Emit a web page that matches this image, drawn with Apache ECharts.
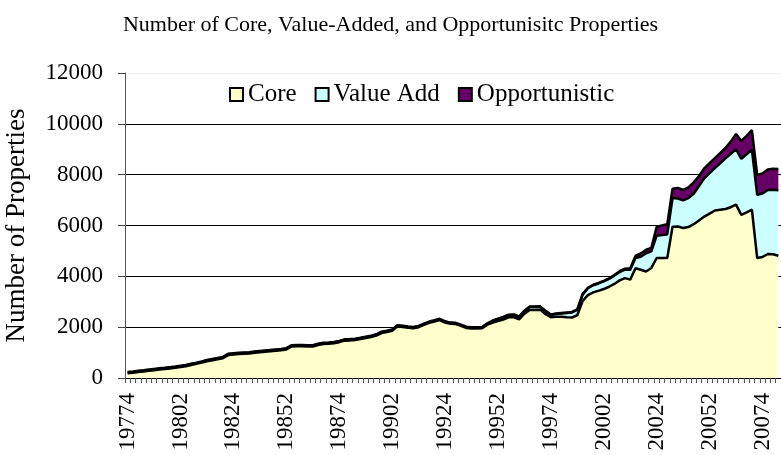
<!DOCTYPE html>
<html>
<head>
<meta charset="utf-8">
<script src="https://cdn.jsdelivr.net/npm/echarts@6/dist/echarts.min.js"></script>
<style>
  html, body { margin: 0; padding: 0; background: #fff; }
  #chart { width: 781px; height: 455px; }
</style>
</head>
<body>
<div id="chart"></div>
<script>
// quarters, yyyyq
const quarters = [
  '19774',
  '19781', '19782', '19783', '19784', '19791', '19792', '19793', '19794',
  '19801', '19802', '19803', '19804', '19811', '19812', '19813', '19814',
  '19821', '19822', '19823', '19824', '19831', '19832', '19833', '19834',
  '19841', '19842', '19843', '19844', '19851', '19852', '19853', '19854',
  '19861', '19862', '19863', '19864', '19871', '19872', '19873', '19874',
  '19881', '19882', '19883', '19884', '19891', '19892', '19893', '19894',
  '19901', '19902', '19903', '19904', '19911', '19912', '19913', '19914',
  '19921', '19922', '19923', '19924', '19931', '19932', '19933', '19934',
  '19941', '19942', '19943', '19944', '19951', '19952', '19953', '19954',
  '19961', '19962', '19963', '19964', '19971', '19972', '19973', '19974',
  '19981', '19982', '19983', '19984', '19991', '19992', '19993', '19994',
  '20001', '20002', '20003', '20004', '20011', '20012', '20013', '20014',
  '20021', '20022', '20023', '20024', '20031', '20032', '20033', '20034',
  '20041', '20042', '20043', '20044', '20051', '20052', '20053', '20054',
  '20061', '20062', '20063', '20064', '20071', '20072', '20073', '20074',
  '20081', '20082', '20083',
]

const core = [
  190, 210, 235, 255, 280, 305, 330, 350, 375, 400, 430, 465, 510, 555, 605, 660,
  700, 735, 780, 900, 925, 940, 950, 960, 990, 1010, 1030, 1050, 1070, 1090, 1125, 1240,
  1250, 1250, 1240, 1240, 1300, 1340, 1350, 1365, 1410, 1470, 1480, 1495, 1530, 1570, 1610, 1670,
  1770, 1810, 1860, 2030, 2010, 1980, 1960, 2000, 2090, 2170, 2220, 2280, 2180, 2130, 2120, 2050,
  1970, 1950, 1950, 1960, 2100, 2180, 2240, 2300, 2390, 2390, 2310, 2530, 2680, 2680, 2690, 2510,
  2390, 2410, 2410, 2390, 2380, 2470, 3030, 3260, 3370, 3430, 3500, 3590, 3700, 3840, 3930, 3870,
  4320, 4260, 4190, 4330, 4720, 4720, 4720, 5950, 5960, 5900, 5940, 6050, 6200, 6350, 6470, 6590,
  6620, 6650, 6720, 6820, 6420, 6520, 6620, 4720, 4760, 4880, 4870, 4810,
]

const valueAdd = [
  30, 30, 30, 30, 30, 30, 30, 30, 30, 30, 30, 30, 30, 30, 30, 30,
  30, 30, 30, 30, 30, 30, 30, 30, 30, 30, 30, 30, 30, 30, 30, 30,
  30, 30, 30, 30, 30, 30, 30, 30, 30, 30, 30, 30, 30, 30, 30, 30,
  30, 30, 30, 30, 30, 30, 30, 30, 30, 30, 30, 30, 30, 30, 30, 30,
  30, 30, 30, 30, 30, 60, 70, 80, 80, 90, 90, 100, 110, 110, 110, 110,
  90, 110, 130, 170, 200, 210, 250, 270, 280, 290, 300, 310, 330, 330, 330, 390,
  400, 510, 720, 650, 880, 910, 930, 1130, 1100, 1090, 1140, 1200, 1350, 1510, 1590, 1670,
  1830, 1990, 2100, 2180, 2200, 2280, 2360, 2490, 2500, 2520, 2540, 2580,
]

const opportunistic = [
  20, 20, 20, 20, 20, 20, 20, 20, 20, 20, 20, 20, 20, 20, 20, 20,
  20, 20, 20, 20, 20, 20, 20, 20, 20, 20, 20, 20, 20, 20, 20, 20,
  20, 20, 20, 20, 20, 20, 20, 20, 20, 20, 20, 20, 20, 20, 20, 20,
  20, 20, 20, 20, 20, 20, 20, 20, 20, 20, 20, 20, 20, 20, 20, 20,
  20, 20, 20, 20, 20, 20, 20, 20, 20, 20, 20, 20, 20, 20, 20, 20,
  20, 20, 20, 20, 20, 20, 20, 20, 20, 20, 20, 20, 20, 30, 40, 60,
  80, 130, 140, 140, 350, 370, 400, 370, 420, 410, 420, 450, 400, 390, 390, 390,
  400, 410, 480, 600, 710, 730, 770, 780, 790, 800, 820, 830,
]

const yTicks = [0, 2000, 4000, 6000, 8000, 10000, 12000]

const FONT = '"Liberation Serif", "Times New Roman", serif'

const chart = echarts.init(document.getElementById('chart'))

const makeSeries = (name, data, fill) => ({
  name,
  type: 'line',
  stack: 'total',
  data,
  showSymbol: false,
  symbol: 'none',
  animation: false,
  itemStyle: { color: fill },
  lineStyle: { color: '#000', width: 2.5 },
  areaStyle: { color: fill, opacity: 1 },
})

chart.setOption({
  backgroundColor: '#fff',
  animation: false,
  title: {
    text: 'Number of Core, Value-Added, and Opportunisitc Properties',
    left: 'center',
    top: 9,
    textStyle: { fontFamily: FONT, fontSize: 22, fontWeight: 'normal', color: '#000' },
  },
  legend: {
    left: 224,
    top: 77,
    icon: 'rect',
    itemWidth: 13,
    itemHeight: 13,
    itemGap: 18,
    itemStyle: { borderColor: '#000', borderWidth: 2 },
    textStyle: { fontFamily: FONT, fontSize: 25, color: '#000' },
    data: ['Core', 'Value Add', 'Opportunistic'],
  },
  grid: {
    left: 125,
    right: 0,
    top: 73,
    bottom: 77,
    outerBoundsMode: 'none',
    containLabel: false,
  },
  xAxis: {
    type: 'category',
    data: quarters,
    boundaryGap: true,
    axisLine: { lineStyle: { color: '#000', width: 1 } },
    axisTick: { show: true, interval: 0, length: 5, lineStyle: { color: '#555' } },
    axisLabel: {
      interval: 9,
      rotate: 90,
      margin: 15,
      fontFamily: FONT,
      fontSize: 23,
      color: '#000',
    },
    splitLine: { show: false },
  },
  yAxis: {
    type: 'value',
    min: yTicks[0],
    max: yTicks[yTicks.length - 1],
    interval: 2000,
    name: 'Number of Properties',
    nameLocation: 'middle',
    nameGap: 95,
    nameTextStyle: { fontFamily: FONT, fontSize: 27, color: '#000' },
    axisLine: { show: true, lineStyle: { color: '#555', width: 1 } },
    axisTick: { show: true, length: 7, lineStyle: { color: '#444' } },
    axisLabel: {
      margin: 22,
      fontFamily: FONT,
      fontSize: 23,
      color: '#000',
      formatter: (v) => String(v),
    },
    splitLine: {
      show: true,
      lineStyle: { color: ['#000', '#000', '#000', '#000', '#000', '#000', '#f2f2f2'], width: 1 },
    },
  },
  series: [
    makeSeries('Core', core, '#FFFFCC'),
    makeSeries('Value Add', valueAdd, '#CCFFFF'),
    makeSeries('Opportunistic', opportunistic, '#660066'),
  ],
})
</script>
</body>
</html>
